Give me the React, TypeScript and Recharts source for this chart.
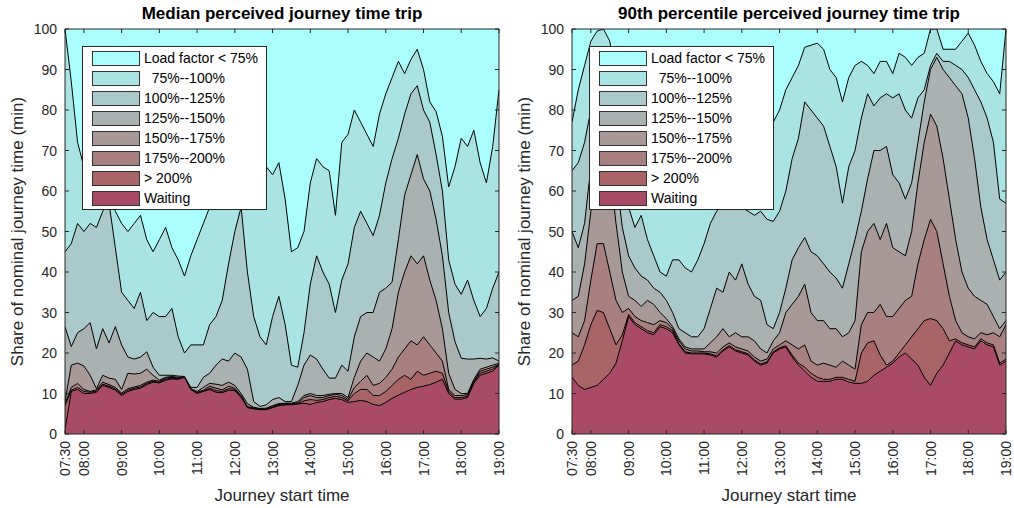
import React from 'react';
import { AreaChart, Area, XAxis, YAxis, CartesianGrid } from 'recharts';

const FONT = '"Liberation Sans", Arial, Helvetica, sans-serif';
const AXIS_GREY = '#262626';

// journey start times (10 minute steps)
const startTimes = [
  '07:30', '07:40', '07:50', '08:00', '08:10', '08:20', '08:30', '08:40', '08:50', '09:00',
  '09:10', '09:20', '09:30', '09:40', '09:50', '10:00', '10:10', '10:20', '10:30', '10:40',
  '10:50', '11:00', '11:10', '11:20', '11:30', '11:40', '11:50', '12:00', '12:10', '12:20',
  '12:30', '12:40', '12:50', '13:00', '13:10', '13:20', '13:30', '13:40', '13:50', '14:00',
  '14:10', '14:20', '14:30', '14:40', '14:50', '15:00', '15:10', '15:20', '15:30', '15:40',
  '15:50', '16:00', '16:10', '16:20', '16:30', '16:40', '16:50', '17:00', '17:10', '17:20',
  '17:30', '17:40', '17:50', '18:00', '18:10', '18:20', '18:30', '18:40', '18:50', '19:00',
];

const hourTicks = [7.5, 8, 9, 10, 11, 12, 13, 14, 15, 16, 17, 18, 19];
const shareTicks = [0, 10, 20, 30, 40, 50, 60, 70, 80, 90, 100];

const bandLabels = [
  'Load factor < 75%', '  75%--100%', '100%--125%', '125%--150%',
  '150%--175%', '175%--200%', '> 200%', 'Waiting',
];
const bandColors = ['#abfefe', '#aae3e3', '#aac9ca', '#aab1b1', '#a99898', '#a98080', '#a96566', '#a94b66'];

// --- median panel: upper edge of each band (cumulative share) ---
const med75to100Top = [
  100, 87, 72, 66, 63, 64, 62, 60, 55, 52,
  50, 52, 54, 48, 45, 48, 51, 46, 43, 39,
  44, 48, 52, 56, 62, 66, 70, 72, 72, 69,
  67, 66, 66, 64, 67, 58, 45, 46, 50, 62,
  68, 66, 65, 54, 72, 74, 80, 77, 74, 71,
  79, 84, 88, 92, 89, 92.5, 95, 90, 82, 79.6,
  73.5, 61, 66, 73, 71, 75, 67, 62, 71, 85,
];
const med100to125Top = [
  45, 47, 52, 50, 52, 51, 55, 57, 46, 35,
  33, 31, 35, 28, 30, 29, 29, 31, 24, 20,
  22, 22, 22, 27, 29, 33, 42, 50, 56, 40,
  29, 24, 22, 29, 34, 27, 17, 16.5, 25, 37,
  44, 40, 37, 30, 38, 42, 51, 55, 52, 49,
  54, 62, 68, 73, 79, 84, 86, 80, 77, 69,
  60, 43, 37, 34.5, 38, 33, 29, 31, 36, 40,
];
const med125to150Top = [
  26.5, 21.6, 25, 26, 27.5, 21, 26, 22.5, 26.5, 22,
  19, 18.5, 19, 20.3, 16.5, 14.5, 14.5, 14.5, 14.3, 14.2,
  11.5, 11.5, 14, 15, 17, 18.5, 18, 20, 19, 16,
  8, 6.8, 7.2, 8.5, 9, 8, 8, 12, 17, 19.5,
  18.5, 16, 13.8, 13.8, 17, 15.5, 24, 29, 30, 30,
  35, 36, 37.5, 48, 59, 64, 69, 63, 60, 53,
  44, 30, 22.8, 18.7, 18.5, 18.5, 18.7, 18.5, 18.8, 18,
];
const med150to175Top = [
  8, 17, 17.5, 16.8, 14.5, 11.2, 14.5, 13.8, 13.5, 11,
  15, 14.8, 15, 16, 14.5, 13.3, 14, 14.2, 14, 14,
  11.2, 10.5, 11.5, 12.5, 12.3, 12, 12.8, 12, 10, 7.5,
  6.6, 6.3, 6.4, 7, 7.5, 7.6, 7.6, 8, 9.5, 10,
  9.5, 9.5, 9.8, 10, 10, 9, 14, 18, 20, 19,
  18, 21, 26, 35, 40, 44, 42, 44, 38, 33,
  26, 15, 11, 10, 10, 13.5, 16, 16.5, 17, 17.5,
];
const med175to200Top = [
  7.5, 11.5, 12.5, 11, 10.5, 10.9, 12.8, 12.2, 11.5, 10.1,
  11.2, 11.6, 12, 12.8, 13.3, 13, 13.8, 14, 13.8, 14,
  11, 10.3, 10.8, 11.8, 11.3, 10.9, 11.8, 11.3, 9.5, 6.8,
  6.4, 6.1, 6.2, 6.8, 7.3, 7.5, 7.5, 7.7, 9, 9.5,
  9, 9, 9.5, 9.8, 9.5, 8.5, 11.5, 13, 14.5, 12,
  12.5, 14, 16, 19, 21, 23, 22, 24, 22, 20,
  18, 11, 9.5, 9.5, 9.7, 13, 15.5, 16, 16.5, 17.2,
];
const medOver200Top = [
  7, 10.8, 11.5, 10.5, 10.3, 10.6, 12.3, 11.8, 11.1, 9.8,
  10.8, 11.3, 11.6, 12.5, 13, 12.8, 13.5, 13.8, 13.6, 14,
  11, 10.1, 10.6, 11.3, 10.7, 10.5, 11.2, 11, 9.2, 6.6,
  6.3, 6, 6.1, 6.6, 7.1, 7.3, 7.3, 7.5, 8.2, 8.5,
  8.3, 8.5, 9, 9.3, 9, 8.2, 10, 11, 11, 9.5,
  9.5, 10.5, 12, 13.5, 14.5, 13.5, 15.5, 14.5, 15, 15.5,
  15, 10.5, 9, 9, 9.3, 12.8, 15, 15.5, 16, 17.1,
];
const medWaitingTop = [
  1, 10.5, 11, 10, 10, 10.3, 12, 11.5, 10.8, 9.5,
  10.5, 11, 11.3, 12.2, 12.8, 12.6, 13.3, 13.6, 13.5, 14,
  11, 10, 10.5, 11, 10.3, 10.2, 10.8, 10.7, 9, 6.5,
  6.2, 6, 6, 6.5, 7, 7.2, 7.2, 7.4, 7.6, 7.3,
  7.8, 8, 8.5, 8.8, 8.5, 7.8, 8, 8.3, 8, 7.3,
  7, 7.8, 8.8, 9.6, 10.3, 11, 11.5, 11.8, 12.2, 12.8,
  13.5, 10, 8.6, 8.6, 9, 12.5, 14.5, 15, 15.5, 17,
];

// --- 90th percentile panel: upper edge of each band ---
const p90_75to100Top = [
  77, 85, 91, 97, 99.5, 100, 97, 88, 78, 70,
  66, 64, 62, 60, 58, 58, 60, 62, 64, 66,
  68, 70, 72, 74, 75, 76, 77, 77, 76, 75,
  76, 76, 77, 80, 85, 88, 91, 95.5, 96, 96.5,
  95, 90, 88, 82, 88, 91, 92, 91, 89, 92,
  92, 89, 94, 93, 91, 93, 94, 100, 100, 95,
  95, 95, 97, 99, 96, 92, 89, 87, 84, 100,
];
const p90_100to125Top = [
  65, 67, 72, 80, 90, 94, 90, 78, 66, 56,
  51, 54, 48, 44, 40, 39, 43, 43, 41, 40,
  43, 47, 52, 55, 57, 58, 57, 56, 55, 54,
  55, 53, 52.5, 55, 60, 68, 73, 82, 80, 78,
  76, 71, 66, 57, 66, 70, 78, 84, 81, 83,
  84, 83, 84, 80, 78, 83, 85, 91, 94, 92,
  92, 91, 90, 88, 85, 82, 78, 72, 58, 57,
];
const p90_125to150Top = [
  50, 46, 52, 66, 80, 87, 79, 64, 51, 44,
  41, 39, 38, 36, 35, 33, 30, 26, 25, 24,
  24, 26, 31, 36, 35, 40, 38, 42, 37, 34,
  33, 27, 26, 30, 36, 43, 46, 48.5, 45, 44,
  42, 40, 38.5, 36, 42, 48, 55, 63, 70, 70,
  71, 64, 62, 58, 62, 72, 82, 90, 93, 90,
  88, 86, 84, 78, 68, 56, 48, 43, 38, 40,
];
const p90_150to175Top = [
  33, 34, 42, 55, 68, 75, 66, 52, 40, 34,
  33, 31.5, 33, 32, 30, 28.5, 26.5, 23.5, 21.5, 21,
  21, 21, 22.5, 24, 26, 24, 25, 24, 24, 23,
  21, 20, 23, 25, 30, 32, 34, 37, 30, 28,
  28, 26, 26, 24, 25, 28, 45, 50, 52, 48,
  52, 46, 45, 44, 50, 62, 72, 79, 76, 68,
  58, 48, 40, 36, 34, 33, 32, 29, 26, 28,
];
const p90_175to200Top = [
  25, 24, 28, 38, 47, 47, 40, 33, 30, 31,
  29, 28, 27.5, 27, 28, 27.5, 26, 23, 21, 20.5,
  20.5, 20.3, 20.3, 20, 21.5, 22.5, 21.5, 21, 20.5, 19,
  18, 18.5, 21, 22, 23, 22, 21, 22, 18, 17,
  17.5, 17, 16.5, 18, 17, 16, 27, 30, 30, 32,
  29, 29, 31, 33, 34, 42, 48, 53, 50, 42,
  34, 28, 25, 24, 23.5, 25, 24.5, 25, 24, 27,
];
const p90Over200Top = [
  17, 18, 22, 27, 30.5, 30, 26, 22, 24.5, 29.5,
  27.5, 26.5, 25.5, 25, 27, 26.5, 25.5, 22.3, 20.3, 20,
  20, 20, 19.8, 19.3, 20.8, 21.8, 20.8, 20.3, 19.8, 18.3,
  17.3, 17.8, 20.3, 21.3, 21.8, 19.5, 17.5, 16.5, 15, 14,
  13.5, 13.5, 14, 14, 13.5, 13, 20, 22.5, 23, 19.5,
  17, 18, 20, 22, 24, 26, 28, 28.5, 28, 26,
  23, 23.5, 22.5, 22, 21.5, 23.5, 22.5, 22, 17.5, 18.5,
];
const p90WaitingTop = [
  14, 12, 11, 11.5, 12, 13.5, 15, 17.5, 23, 29,
  27, 26, 25, 24.5, 26.5, 26, 25, 22, 20, 19.8,
  19.8, 19.8, 19.5, 19, 20.5, 21.5, 20.5, 20, 19.5, 18,
  17, 17.5, 20, 21, 21.5, 19, 17, 15.5, 14, 13,
  13, 13, 13.5, 13.5, 12.8, 12.5, 12.5, 13, 14.5, 15.5,
  16.5, 17.5, 19, 20, 18.5, 17, 14, 12, 15, 17,
  20, 23, 22, 21.5, 21, 23, 22, 21.5, 17, 18,
];

const toHours = (t: string) => {
  const [h, m] = t.split(':').map(Number);
  return h + m / 60;
};

const fmtHour = (v: number) => {
  const h = Math.floor(v);
  const m = Math.round((v - h) * 60);
  return `${String(h).padStart(2, '0')}:${String(m).padStart(2, '0')}`;
};

// edges are ordered from the top band down to waiting
const buildRows = (edges: number[][]) =>
  startTimes.map((t, i) => {
    const row: Record<string, number> = { hour: toHours(t) };
    edges.forEach((e, k) => {
      row[`e${k}`] = e[i];
    });
    return row;
  });

const TimeTick = (props: any) => {
  const { x, y, payload } = props;
  return (
    <g>
      <line x1={x} y1={y} x2={x} y2={y - 4} stroke={AXIS_GREY} />
      <text
        x={x}
        y={y}
        dx={-7}
        dy={5}
        transform={`rotate(-90 ${x} ${y})`}
        textAnchor="end"
        fill={AXIS_GREY}
        fontSize={14}
        fontFamily={FONT}
      >
        {fmtHour(payload.value)}
      </text>
    </g>
  );
};

const ShareTick = (props: any) => {
  const { x, y, payload } = props;
  return (
    <g>
      <line x1={x} y1={y} x2={x + 4} y2={y} stroke={AXIS_GREY} />
      <text x={x - 8} y={y} dy={5} textAnchor="end" fill={AXIS_GREY} fontSize={14} fontFamily={FONT}>
        {payload.value}
      </text>
    </g>
  );
};

const TopTick = (props: any) => {
  const { x, y } = props;
  return <line x1={x} y1={y} x2={x} y2={y + 4} stroke={AXIS_GREY} />;
};

const RightTick = (props: any) => {
  const { x, y } = props;
  return <line x1={x} y1={y} x2={x - 4} y2={y} stroke={AXIS_GREY} />;
};

const LegendBox = () => (
  <div
    style={{
      position: 'absolute',
      left: 82,
      top: 46,
      width: 185,
      height: 164,
      boxSizing: 'border-box',
      background: '#fff',
      border: `1px solid ${AXIS_GREY}`,
      fontFamily: FONT,
      fontSize: 14,
      color: '#000',
    }}
  >
    {bandLabels.map((label, i) => (
      <div
        key={label}
        style={{ position: 'absolute', left: 9, top: 4 + i * 20, height: 15, display: 'flex', alignItems: 'center' }}
      >
        <div
          style={{
            width: 48,
            height: 15,
            boxSizing: 'border-box',
            background: bandColors[i],
            border: '1px solid #333',
          }}
        />
        <span style={{ marginLeft: 4, whiteSpace: 'pre', lineHeight: '15px' }}>{label}</span>
      </div>
    ))}
  </div>
);

const Panel = ({ left, title, edges }: { left: number; title: string; edges: number[][] }) => {
  const rows = buildRows(edges);
  return (
    <div style={{ position: 'absolute', left, top: 0, width: 507, height: 508 }}>
      <div
        style={{
          position: 'absolute',
          left: 65,
          top: 4,
          width: 434,
          textAlign: 'center',
          fontFamily: FONT,
          fontWeight: 'bold',
          fontSize: 17,
          lineHeight: '19px',
          color: '#000',
        }}
      >
        {title}
      </div>
      <AreaChart width={507} height={508} data={rows} margin={{ top: 28, right: 7, bottom: 0, left: 0 }}>
        <CartesianGrid horizontal={false} vertical={false} fill={bandColors[0]} fillOpacity={1} />
        {edges.map((_, k) => (
          <Area
            key={k}
            dataKey={`e${k}`}
            type="linear"
            stroke="#000"
            strokeWidth={1}
            fill={bandColors[k + 1]}
            fillOpacity={1}
            dot={false}
            activeDot={false}
            isAnimationActive={false}
          />
        ))}
        <XAxis
          dataKey="hour"
          type="number"
          domain={[7.5, 19]}
          ticks={hourTicks}
          interval={0}
          height={74}
          tickSize={0}
          tickMargin={0}
          tickLine={false}
          axisLine={{ stroke: AXIS_GREY }}
          tick={<TimeTick />}
          allowDataOverflow
          label={() => (
            <text x={282} y={501} textAnchor="middle" fill={AXIS_GREY} fontSize={17} fontFamily={FONT}>
              Journey start time
            </text>
          )}
        />
        <XAxis
          xAxisId="top"
          dataKey="hour"
          orientation="top"
          type="number"
          domain={[7.5, 19]}
          ticks={hourTicks}
          interval={0}
          height={1}
          tickSize={0}
          tickMargin={0}
          tickLine={false}
          axisLine={{ stroke: AXIS_GREY }}
          tick={<TopTick />}
          allowDataOverflow
        />
        <YAxis
          type="number"
          domain={[0, 100]}
          ticks={shareTicks}
          interval={0}
          width={65}
          tickSize={0}
          tickMargin={0}
          tickLine={false}
          axisLine={{ stroke: AXIS_GREY }}
          tick={<ShareTick />}
          allowDataOverflow
          label={() => (
            <text
              x={17}
              y={231.5}
              transform="rotate(-90 17 231.5)"
              textAnchor="middle"
              dominantBaseline="central"
              fill={AXIS_GREY}
              fontSize={17}
              fontFamily={FONT}
            >
              Share of nominal journey time (min)
            </text>
          )}
        />
        <YAxis
          yAxisId="right"
          dataKey="e0"
          orientation="right"
          type="number"
          domain={[0, 100]}
          ticks={shareTicks}
          interval={0}
          width={1}
          tickSize={0}
          tickMargin={0}
          tickLine={false}
          axisLine={{ stroke: AXIS_GREY }}
          tick={<RightTick />}
          allowDataOverflow
        />
      </AreaChart>
      <LegendBox />
    </div>
  );
};

export default function App() {
  const medianEdges = [
    med75to100Top, med100to125Top, med125to150Top, med150to175Top,
    med175to200Top, medOver200Top, medWaitingTop,
  ];
  const p90Edges = [
    p90_75to100Top, p90_100to125Top, p90_125to150Top, p90_150to175Top,
    p90_175to200Top, p90Over200Top, p90WaitingTop,
  ];
  return (
    <div style={{ position: 'absolute', left: 0, top: 0, width: 1014, height: 508, background: '#fff' }}>
      <Panel left={0} title="Median perceived journey time trip" edges={medianEdges} />
      <Panel left={507} title="90th percentile perceived journey time trip" edges={p90Edges} />
    </div>
  );
}
